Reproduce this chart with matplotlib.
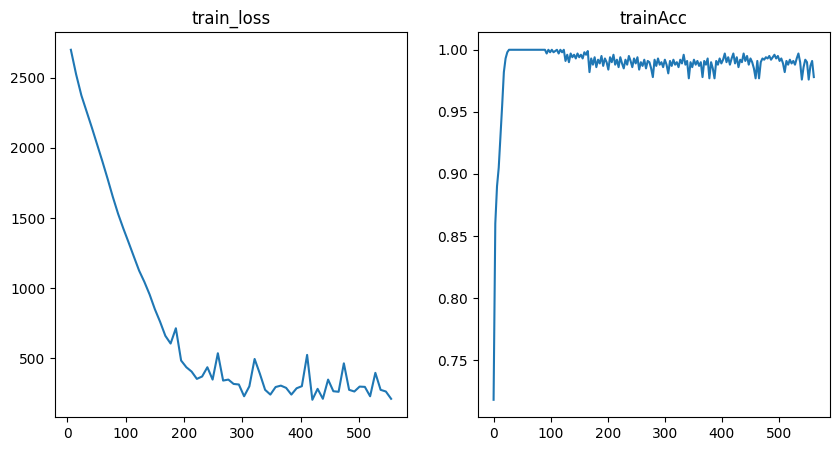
import numpy as np
from matplotlib import pyplot as plt

# loss logged every 9 steps
loss_steps = np.arange(6, 556, 9)
train_loss = [2700, 2525, 2375, 2260, 2145, 2025, 1905, 1780, 1650, 1530,
              1425, 1326, 1225, 1125, 1045, 955, 850, 760, 660, 605,
              714, 484, 436, 405, 353, 370, 436, 348, 536, 341,
              348, 317, 313, 229, 300, 495, 390, 275, 241, 295,
              305, 289, 241, 286, 301, 524, 204, 282, 211, 348,
              265, 261, 464, 275, 263, 298, 296, 229, 396, 275,
              263, 211]

# accuracy logged every 3 steps
acc_steps = np.arange(0, 562, 3)
train_acc = [0.718, 0.860, 0.890, 0.905, 0.930, 0.955, 0.982, 0.993, 0.998, 1.000,
             1.0, 1.0, 1.0, 1.0, 1.0, 1.0, 1.0, 1.0, 1.0, 1.0,
             1.0, 1.0, 1.0, 1.0, 1.0, 1.0, 1.0, 1.0, 1.0, 1.0,
             1.0, 0.997, 1.0, 0.998, 1.0, 0.998, 0.999, 1.0, 0.997, 1.0,
             0.998, 1.0, 0.991, 0.996, 0.990, 0.997, 0.994, 0.996, 0.993, 0.997,
             0.994, 0.996, 0.993, 0.998, 0.996, 0.999, 0.982, 0.993, 0.988, 0.994,
             0.986, 0.992, 0.989, 0.995, 0.987, 0.993, 0.990, 0.984, 0.994, 0.990,
             0.996, 0.988, 0.992, 0.986, 0.994, 0.989, 0.985, 0.992, 0.988, 0.995,
             0.991, 0.986, 0.993, 0.989, 0.994, 0.984, 0.990, 0.987, 0.992, 0.985,
             0.991, 0.990, 0.985, 0.978, 0.992, 0.987, 0.993, 0.988, 0.990, 0.986,
             0.992, 0.988, 0.981, 0.991, 0.987, 0.992, 0.988, 0.990, 0.986, 0.992,
             0.989, 0.996, 0.988, 0.991, 0.977, 0.990, 0.986, 0.992, 0.988, 0.991,
             0.987, 0.990, 0.978, 0.991, 0.988, 0.993, 0.977, 0.990, 0.985, 0.977,
             0.991, 0.988, 0.993, 0.989, 0.992, 0.997, 0.990, 0.994, 0.988, 0.993,
             0.997, 0.989, 0.994, 0.986, 0.992, 0.990, 0.997, 0.991, 0.995, 0.988,
             0.993, 0.990, 0.985, 0.977, 0.991, 0.977, 0.990, 0.993, 0.992, 0.994,
             0.993, 0.995, 0.992, 0.994, 0.996, 0.993, 0.995, 0.991, 0.993, 0.989,
             0.982, 0.991, 0.988, 0.992, 0.989, 0.991, 0.988, 0.993, 0.997, 0.990,
             0.976, 0.986, 0.992, 0.990, 0.976, 0.987, 0.991, 0.978]

fig, (ax1, ax2) = plt.subplots(1, 2, figsize=(10, 5))

ax1.plot(loss_steps, train_loss)
ax1.set_title("train_loss")

ax2.plot(acc_steps, train_acc)
ax2.set_title("trainAcc")

plt.savefig("out.png", bbox_inches="tight")
